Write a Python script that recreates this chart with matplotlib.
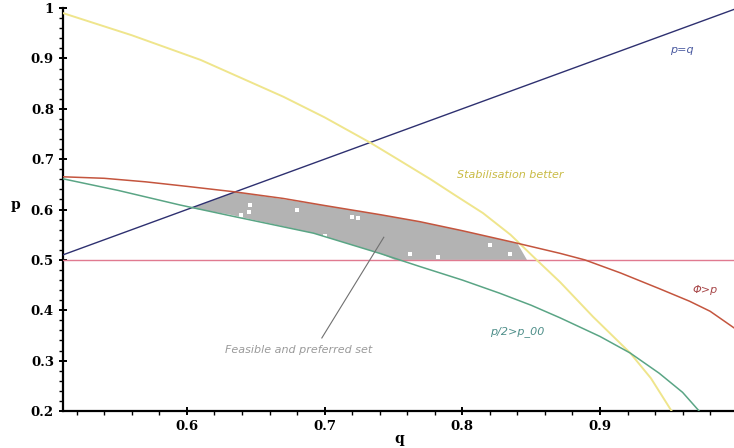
'''
Feasible and preferred set in the (q, p) plane.
'''
import matplotlib
matplotlib.use('Agg')
import matplotlib.pyplot as plt
from matplotlib.ticker import MultipleLocator

# curves as (q, p) points
red_q = [0.51, 0.54, 0.57, 0.60, 0.635, 0.67, 0.70, 0.74, 0.769, 0.80, 0.837, 0.871, 0.889,
         0.915, 0.943, 0.965, 0.98, 1.0]
red_p = [0.665, 0.662, 0.655, 0.646, 0.635, 0.622, 0.608, 0.590, 0.576, 0.558, 0.535, 0.513, 0.500,
         0.474, 0.443, 0.418, 0.398, 0.360]

green_q = [0.51, 0.55, 0.595, 0.631, 0.692, 0.740, 0.769, 0.80, 0.827, 0.85, 0.871, 0.90,
           0.922, 0.943, 0.96, 0.972]
green_p = [0.661, 0.638, 0.609, 0.588, 0.553, 0.513, 0.487, 0.460, 0.434, 0.410, 0.385, 0.348,
           0.315, 0.275, 0.237, 0.200]

yellow_q = [0.51, 0.56, 0.61, 0.67, 0.70, 0.733, 0.753, 0.777, 0.795, 0.815, 0.835, 0.854,
            0.871, 0.895, 0.922, 0.937, 0.952]
yellow_p = [0.99, 0.946, 0.897, 0.824, 0.783, 0.733, 0.700, 0.660, 0.628, 0.593, 0.550, 0.500,
            0.456, 0.387, 0.315, 0.265, 0.200]

diag_q = [0.51, 1.0]
diag_p = [0.51, 1.0]

half_q = [0.51, 1.0]
half_p = [0.5, 0.5]

# outline of the grey region
grey_q = [0.635, 0.70, 0.740, 0.769, 0.80, 0.840, 0.847, 0.751, 0.740, 0.692, 0.631, 0.603]
grey_p = [0.635, 0.608, 0.590, 0.576, 0.558, 0.533, 0.500, 0.500, 0.513, 0.553, 0.590, 0.603]

# holes in the grey point cloud
hole_q = [0.646, 0.645, 0.639, 0.72, 0.724, 0.762, 0.782, 0.835, 0.82, 0.70, 0.68]
hole_p = [0.609, 0.595, 0.589, 0.585, 0.584, 0.511, 0.506, 0.512, 0.530, 0.548, 0.600]

XLIM = (0.51, 1.0)
YLIM = (0.2, 1.0)


def setup_axes():
    fig = plt.figure(figsize=(7.34, 4.48), dpi=100)
    ax = fig.add_axes([0.0858, 0.0826, 1.005 - 0.0858, 0.982 - 0.0826])
    ax.set_xlim(*XLIM)
    ax.set_ylim(*YLIM)
    for side in ('top', 'right'):
        ax.spines[side].set_visible(False)
    ax.spines['left'].set_linewidth(1.6)
    ax.spines['bottom'].set_linewidth(1.6)

    ax.xaxis.set_major_locator(MultipleLocator(0.1))
    ax.xaxis.set_minor_locator(MultipleLocator(0.02))
    ax.yaxis.set_major_locator(MultipleLocator(0.1))
    ax.yaxis.set_minor_locator(MultipleLocator(0.02))
    ax.tick_params(which='major', direction='inout', length=6, width=1.4, color='black')
    ax.tick_params(which='minor', direction='out', length=3, width=1.0, color='black')
    ax.set_xticks([0.6, 0.7, 0.8, 0.9])
    ax.set_xticklabels(['0.6', '0.7', '0.8', '0.9'])
    ax.set_yticks([0.2, 0.3, 0.4, 0.5, 0.6, 0.7, 0.8, 0.9, 1.0])
    ax.set_yticklabels(['0.2', '0.3', '0.4', '0.5', '0.6', '0.7', '0.8', '0.9', '1'])
    for lab in ax.get_xticklabels() + ax.get_yticklabels():
        lab.set_fontfamily('DejaVu Serif')
        lab.set_fontweight('bold')
        lab.set_fontsize(9.5)

    ax.set_xlabel('q', family='DejaVu Serif', fontweight='bold', fontsize=10)
    ax.xaxis.set_label_coords(0.4985, -0.052)
    ax.set_ylabel('p', family='DejaVu Serif', fontweight='bold', fontsize=10, rotation=0)
    ax.yaxis.set_label_coords(-0.07, 0.494)
    return fig, ax


def draw_chart():
    fig, ax = setup_axes()

    ax.fill(grey_q, grey_p, color='#b3b3b3', lw=0, zorder=1)
    ax.scatter(hole_q, hole_p, s=5, marker='s', color='white', lw=0, zorder=2)

    ax.plot(half_q, half_p, color='#e07a90', lw=1.0, zorder=3)
    ax.plot(diag_q, diag_p, color='#2e3070', lw=1.0, zorder=3)
    ax.plot(yellow_q, yellow_p, color='#efe58c', lw=1.4, zorder=3)
    ax.plot(green_q, green_p, color='#5aa585', lw=1.1, zorder=3)
    ax.plot(red_q, red_p, color='#c4553e', lw=1.1, zorder=3)

    ax.plot([0.698, 0.743], [0.345, 0.545], color='#707070', lw=0.8, zorder=4)

    style = dict(fontsize=8, style='italic', va='center', ha='left')
    ax.text(0.951, 0.917, 'p=q', color='#4a5aa0', **style)
    ax.text(0.796, 0.668, 'Stabilisation better', color='#c9bb45', **style)
    ax.text(0.967, 0.44, 'Φ>p', color='#a8484a', **style)
    ax.text(0.820, 0.357, 'p/2>p_00', color='#4f8f8a', **style)
    ax.text(0.628, 0.321, 'Feasible and preferred set', color='#9a9a9a', **style)

    fig.savefig('out.png', dpi=100)


if __name__ == '__main__':
    draw_chart()
